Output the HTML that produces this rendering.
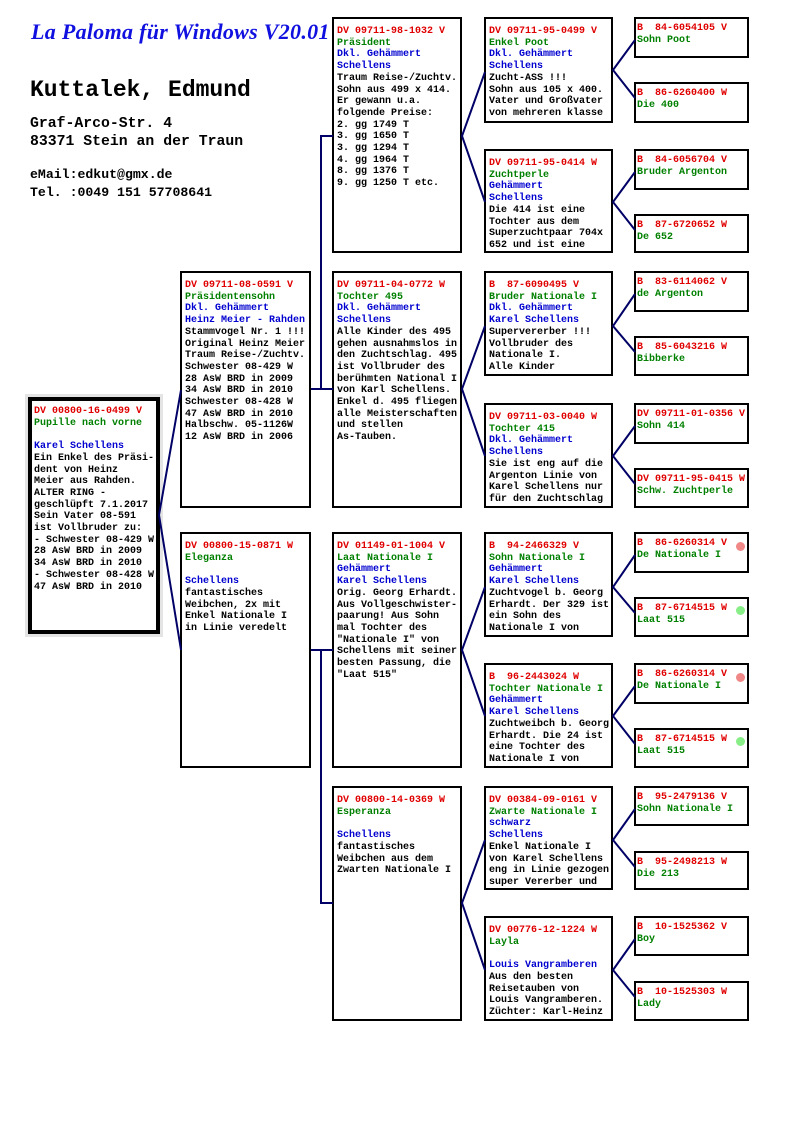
<!DOCTYPE html>
<html><head><meta charset="utf-8"><style>
*{margin:0;padding:0;box-sizing:border-box}
body{width:794px;height:1123px;background:#fff;position:relative;overflow:hidden;font-family:"Liberation Mono","DejaVu Sans Mono",monospace}
.b{position:absolute;border:2px solid #000;background:#fff;font-size:10px;font-weight:bold;line-height:11.7px;white-space:pre;padding:7px 0 0 3px;overflow:hidden;color:#000}
.s{padding:4px 0 0 1px}
.r{color:#e00000}.g{color:#008000}.u{color:#0000d0}
.h{position:absolute;font-weight:bold;white-space:pre;color:#000}
.dot{position:absolute;width:9px;height:9px;border-radius:50%}
svg{z-index:5}
</style></head><body>
<div style="position:absolute;left:31px;top:19px;font-family:'Liberation Serif',serif;font-style:italic;font-weight:bold;font-size:22px;color:#1010e0;letter-spacing:0.3px;white-space:pre">La Paloma für Windows V20.01</div>
<div class="h" style="left:30px;top:77px;font-size:23px">Kuttalek, Edmund</div>
<div class="h" style="left:30px;top:115px;font-size:14.8px;line-height:18px">Graf-Arco-Str. 4
83371 Stein an der Traun</div>
<div class="h" style="left:30px;top:166px;font-size:13.2px;line-height:18px">eMail:edkut@gmx.de
Tel. :0049 151 57708641</div>

<div class="b" style="left:28px;top:397px;width:132px;height:237px;border:4px solid #000;box-shadow:0 0 0 3px #e4e4e4;padding:5px 0 0 2px"><span class="r">DV 00800-16-0499 V</span>
<span class="g">Pupille nach vorne</span>

<span class="u">Karel Schellens</span>
Ein Enkel des Präsi-
dent von Heinz
Meier aus Rahden.
ALTER RING -
geschlüpft 7.1.2017
Sein Vater 08-591
ist Vollbruder zu:
- Schwester 08-429 W
28 AsW BRD in 2009
34 AsW BRD in 2010
- Schwester 08-428 W
47 AsW BRD in 2010</div>

<div class="b" style="left:180px;top:271px;width:131px;height:237px"><span class="r">DV 09711-08-0591 V</span>
<span class="g">Präsidentensohn</span>
<span class="u">Dkl. Gehämmert</span>
<span class="u">Heinz Meier - Rahden</span>
Stammvogel Nr. 1 !!!
Original Heinz Meier
Traum Reise-/Zuchtv.
Schwester 08-429 W
28 AsW BRD in 2009
34 AsW BRD in 2010
Schwester 08-428 W
47 AsW BRD in 2010
Halbschw. 05-1126W
12 AsW BRD in 2006</div>
<div class="b" style="left:180px;top:532px;width:131px;height:236px"><span class="r">DV 00800-15-0871 W</span>
<span class="g">Eleganza</span>

<span class="u">Schellens</span>
fantastisches
Weibchen, 2x mit
Enkel Nationale I
in Linie veredelt</div>

<div class="b" style="left:332px;top:17px;width:130px;height:236px"><span class="r">DV 09711-98-1032 V</span>
<span class="g">Präsident</span>
<span class="u">Dkl. Gehämmert</span>
<span class="u">Schellens</span>
Traum Reise-/Zuchtv.
Sohn aus 499 x 414.
Er gewann u.a.
folgende Preise:
2. gg 1749 T
3. gg 1650 T
3. gg 1294 T
4. gg 1964 T
8. gg 1376 T
9. gg 1250 T etc.</div>
<div class="b" style="left:332px;top:271px;width:130px;height:237px"><span class="r">DV 09711-04-0772 W</span>
<span class="g">Tochter 495</span>
<span class="u">Dkl. Gehämmert</span>
<span class="u">Schellens</span>
Alle Kinder des 495
gehen ausnahmslos in
den Zuchtschlag. 495
ist Vollbruder des
berühmten National I
von Karl Schellens.
Enkel d. 495 fliegen
alle Meisterschaften
und stellen
As-Tauben.</div>
<div class="b" style="left:332px;top:532px;width:130px;height:236px"><span class="r">DV 01149-01-1004 V</span>
<span class="g">Laat Nationale I</span>
<span class="u">Gehämmert</span>
<span class="u">Karel Schellens</span>
Orig. Georg Erhardt.
Aus Vollgeschwister-
paarung! Aus Sohn
mal Tochter des
"Nationale I" von
Schellens mit seiner
besten Passung, die
"Laat 515"</div>
<div class="b" style="left:332px;top:786px;width:130px;height:235px"><span class="r">DV 00800-14-0369 W</span>
<span class="g">Esperanza</span>

<span class="u">Schellens</span>
fantastisches
Weibchen aus dem
Zwarten Nationale I</div>

<div class="b" style="left:484px;top:17px;width:129px;height:106px"><span class="r">DV 09711-95-0499 V</span>
<span class="g">Enkel Poot</span>
<span class="u">Dkl. Gehämmert</span>
<span class="u">Schellens</span>
Zucht-ASS !!!
Sohn aus 105 x 400.
Vater und Großvater
von mehreren klasse</div>
<div class="b" style="left:484px;top:149px;width:129px;height:104px"><span class="r">DV 09711-95-0414 W</span>
<span class="g">Zuchtperle</span>
<span class="u">Gehämmert</span>
<span class="u">Schellens</span>
Die 414 ist eine
Tochter aus dem
Superzuchtpaar 704x
652 und ist eine</div>
<div class="b" style="left:484px;top:271px;width:129px;height:105px"><span class="r">B  87-6090495 V</span>
<span class="g">Bruder Nationale I</span>
<span class="u">Dkl. Gehämmert</span>
<span class="u">Karel Schellens</span>
Supervererber !!!
Vollbruder des
Nationale I.
Alle Kinder</div>
<div class="b" style="left:484px;top:403px;width:129px;height:105px"><span class="r">DV 09711-03-0040 W</span>
<span class="g">Tochter 415</span>
<span class="u">Dkl. Gehämmert</span>
<span class="u">Schellens</span>
Sie ist eng auf die
Argenton Linie von
Karel Schellens nur
für den Zuchtschlag</div>
<div class="b" style="left:484px;top:532px;width:129px;height:105px"><span class="r">B  94-2466329 V</span>
<span class="g">Sohn Nationale I</span>
<span class="u">Gehämmert</span>
<span class="u">Karel Schellens</span>
Zuchtvogel b. Georg
Erhardt. Der 329 ist
ein Sohn des
Nationale I von</div>
<div class="b" style="left:484px;top:663px;width:129px;height:105px"><span class="r">B  96-2443024 W</span>
<span class="g">Tochter Nationale I</span>
<span class="u">Gehämmert</span>
<span class="u">Karel Schellens</span>
Zuchtweibch b. Georg
Erhardt. Die 24 ist
eine Tochter des
Nationale I von</div>
<div class="b" style="left:484px;top:786px;width:129px;height:104px"><span class="r">DV 00384-09-0161 V</span>
<span class="g">Zwarte Nationale I</span>
<span class="u">schwarz</span>
<span class="u">Schellens</span>
Enkel Nationale I
von Karel Schellens
eng in Linie gezogen
super Vererber und</div>
<div class="b" style="left:484px;top:916px;width:129px;height:105px"><span class="r">DV 00776-12-1224 W</span>
<span class="g">Layla</span>

<span class="u">Louis Vangramberen</span>
Aus den besten
Reisetauben von
Louis Vangramberen.
Züchter: Karl-Heinz</div>

<div class="b s" style="left:634px;top:17px;width:115px;height:41px"><span class="r">B  84-6054105 V</span>
<span class="g">Sohn Poot</span></div>
<div class="b s" style="left:634px;top:82px;width:115px;height:41px"><span class="r">B  86-6260400 W</span>
<span class="g">Die 400</span></div>
<div class="b s" style="left:634px;top:149px;width:115px;height:41px"><span class="r">B  84-6056704 V</span>
<span class="g">Bruder Argenton</span></div>
<div class="b s" style="left:634px;top:214px;width:115px;height:39px"><span class="r">B  87-6720652 W</span>
<span class="g">De 652</span></div>
<div class="b s" style="left:634px;top:271px;width:115px;height:41px"><span class="r">B  83-6114062 V</span>
<span class="g">de Argenton</span></div>
<div class="b s" style="left:634px;top:336px;width:115px;height:40px"><span class="r">B  85-6043216 W</span>
<span class="g">Bibberke</span></div>
<div class="b s" style="left:634px;top:403px;width:115px;height:41px"><span class="r">DV 09711-01-0356 V</span>
<span class="g">Sohn 414</span></div>
<div class="b s" style="left:634px;top:468px;width:115px;height:40px"><span class="r">DV 09711-95-0415 W</span>
<span class="g">Schw. Zuchtperle</span></div>
<div class="b s" style="left:634px;top:532px;width:115px;height:41px"><span class="r">B  86-6260314 V</span>
<span class="g">De Nationale I</span></div>
<div class="b s" style="left:634px;top:597px;width:115px;height:40px"><span class="r">B  87-6714515 W</span>
<span class="g">Laat 515</span></div>
<div class="b s" style="left:634px;top:663px;width:115px;height:41px"><span class="r">B  86-6260314 V</span>
<span class="g">De Nationale I</span></div>
<div class="b s" style="left:634px;top:728px;width:115px;height:40px"><span class="r">B  87-6714515 W</span>
<span class="g">Laat 515</span></div>
<div class="b s" style="left:634px;top:786px;width:115px;height:40px"><span class="r">B  95-2479136 V</span>
<span class="g">Sohn Nationale I</span></div>
<div class="b s" style="left:634px;top:851px;width:115px;height:39px"><span class="r">B  95-2498213 W</span>
<span class="g">Die 213</span></div>
<div class="b s" style="left:634px;top:916px;width:115px;height:40px"><span class="r">B  10-1525362 V</span>
<span class="g">Boy</span></div>
<div class="b s" style="left:634px;top:981px;width:115px;height:40px"><span class="r">B  10-1525303 W</span>
<span class="g">Lady</span></div>

<div class="dot" style="left:736px;top:542px;background:#f08888"></div>
<div class="dot" style="left:736px;top:606px;background:#88ee88"></div>
<div class="dot" style="left:736px;top:673px;background:#f08888"></div>
<div class="dot" style="left:736px;top:737px;background:#88ee88"></div>

<svg style="position:absolute;left:0;top:0" width="794" height="1123">
<g stroke="#000066" stroke-width="2" fill="none">
<polyline points="181,390 159,515 181,650"/>
<polyline points="311,389 333,389"/><polyline points="333,136 321,136 321,389"/>
<polyline points="311,650 333,650"/><polyline points="321,650 321,903 333,903"/>
<polyline points="485,72 462,136 485,202"/>
<polyline points="485,326 462,389 485,456"/>
<polyline points="485,587 462,650 485,716"/>
<polyline points="485,840 462,903 485,970"/>
<polyline points="635,40 613,70 635,98"/>
<polyline points="635,172 613,202 635,230"/>
<polyline points="635,294 613,326 635,352"/>
<polyline points="635,426 613,456 635,484"/>
<polyline points="635,555 613,587 635,613"/>
<polyline points="635,686 613,716 635,744"/>
<polyline points="635,809 613,840 635,867"/>
<polyline points="635,939 613,970 635,997"/>
</g></svg>
</body></html>
